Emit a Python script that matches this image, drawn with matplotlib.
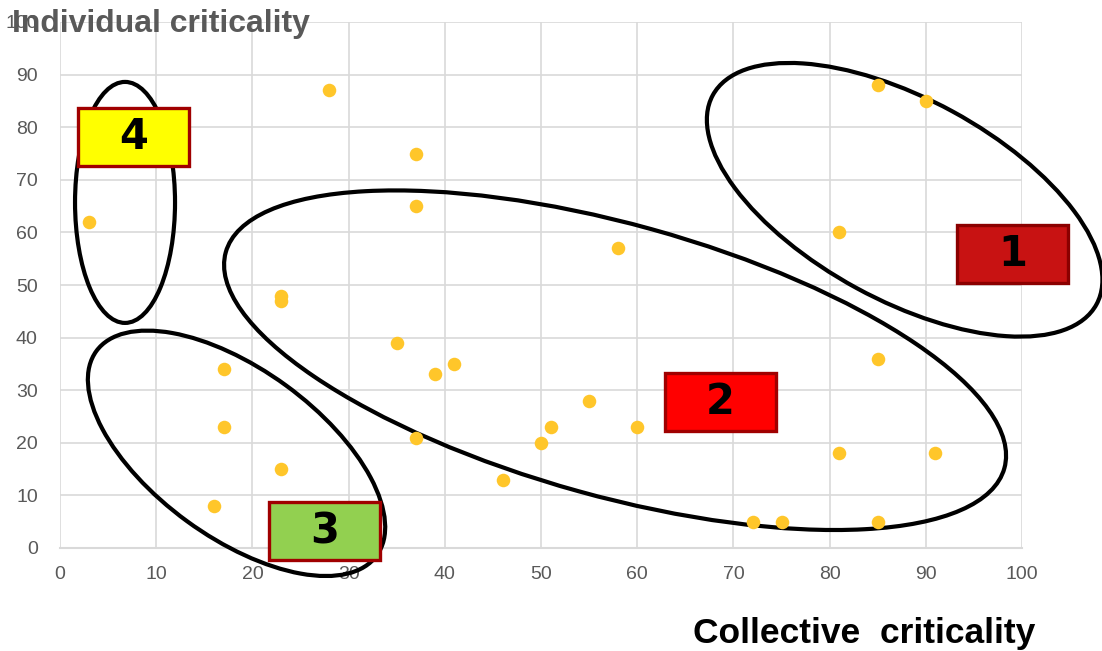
import matplotlib
matplotlib.use("Agg")
import matplotlib.pyplot as plt
import matplotlib.transforms as mtransforms
from matplotlib.patches import Ellipse, Rectangle

# data (collective, individual)
collective = [3, 16, 17, 17, 23, 23, 23, 28, 35, 37, 37, 37, 39, 41, 46,
              50, 51, 55, 58, 60, 72, 75, 81, 81, 85, 85, 85, 90, 91]
individual = [62, 8, 34, 23, 15, 48, 47, 87, 39, 75, 65, 21, 33, 35, 13,
              20, 23, 28, 57, 23, 5, 5, 60, 18, 88, 36, 5, 85, 18]

x_ticks = [0, 10, 20, 30, 40, 50, 60, 70, 80, 90, 100]
y_ticks = [0, 10, 20, 30, 40, 50, 60, 70, 80, 90, 100]

# group outlines: centre in data units, size in pixels, angle in degrees
groups = [
    {"centre": (87.8, 66.2), "size": (437, 201), "angle": -28.6},
    {"centre": (57.7, 35.7), "size": (808, 272), "angle": -15.5},
    {"centre": (18.35, 18.0), "size": (347, 168), "angle": -36.1},
    {"centre": (6.76, 65.7), "size": (100, 241), "angle": 0},
]

# group labels
labels = ["1", "2", "3", "4"]
label_pos = [(99.06, 55.8), (68.66, 27.7), (27.52, 3.2), (7.69, 78.1)]
label_fill = ["#C81212", "#FF0000", "#92D050", "#FFFF00"]
label_edge = ["#8B0000", "#A00000", "#A00000", "#A00000"]

GRAY = "#595959"
GRID = "#D9D9D9"
DPI = 100

fig = plt.figure(figsize=(11.02, 6.51), dpi=DPI)
ax = fig.add_axes([60 / 1102, 103 / 651, 962 / 1102, 526 / 651])

ax.set_xlim(0, 100)
ax.set_ylim(0, 100)
ax.set_xticks(x_ticks)
ax.set_yticks(y_ticks)
ax.tick_params(length=0, labelsize=14, labelcolor=GRAY)
ax.tick_params(axis="x", pad=13)
ax.tick_params(axis="y", pad=16)
for lab in ax.get_xticklabels() + ax.get_yticklabels():
    lab.set_fontfamily("Liberation Sans")
ax.grid(True, color=GRID, linewidth=1.2)
ax.set_axisbelow(True)
for side in ["top", "right", "left"]:
    ax.spines[side].set_visible(False)
ax.spines["bottom"].set_color(GRID)
ax.spines["bottom"].set_linewidth(1.5)

ax.scatter(collective, individual, s=95, color="#FFC62A", zorder=4,
           linewidths=0)


def anchored(cx, cy):
    # pixel-sized shape positioned at a data point
    return fig.dpi_scale_trans + mtransforms.ScaledTranslation(cx, cy, ax.transData)


for g in groups:
    w, h = g["size"]
    e = Ellipse((0, 0), w / DPI, h / DPI, angle=g["angle"], fill=False,
                edgecolor="black", linewidth=3.0,
                transform=anchored(*g["centre"]), clip_on=False, zorder=3)
    ax.add_patch(e)

box_w, box_h = 111 / DPI, 58 / DPI
for txt, (cx, cy), fc, ec in zip(labels, label_pos, label_fill, label_edge):
    r = Rectangle((-box_w / 2, -box_h / 2), box_w, box_h, facecolor=fc,
                  edgecolor=ec, linewidth=2.4, transform=anchored(cx, cy),
                  clip_on=False, zorder=5)
    ax.add_patch(r)
    ax.text(cx, cy, txt, ha="center", va="center", fontsize=30,
            fontweight="bold", color="black", zorder=6,
            fontfamily="DejaVu Sans")

fig.text(12 / 1102, 1 - 32 / 651, "Individual criticality", color=GRAY,
         fontsize=23, fontweight="bold", fontfamily="Liberation Sans",
         va="baseline", ha="left")
fig.text(1035 / 1102, 1 - 643 / 651, "Collective  criticality", color="black",
         fontsize=25.5, fontweight="bold", fontfamily="Liberation Sans",
         va="baseline", ha="right")

fig.savefig("out.png", dpi=DPI)
